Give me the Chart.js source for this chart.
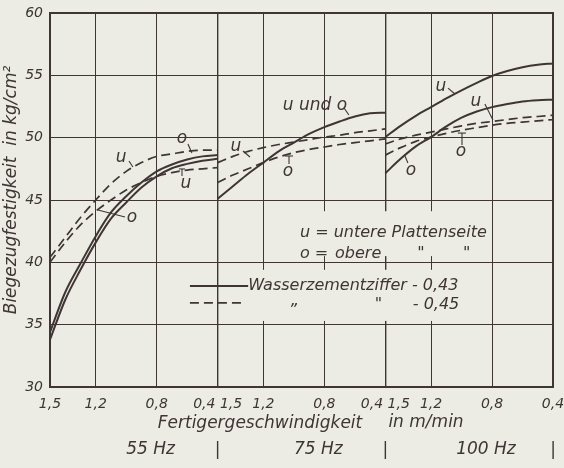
<!DOCTYPE html>
<html>
<head>
<meta charset="utf-8">
<script src="https://cdn.jsdelivr.net/npm/chart.js@4.4.1/dist/chart.umd.min.js"></script>
<style>
  html, body { margin: 0; padding: 0; background: #ecebe4; }
  #wrap { width: 564px; height: 468px; position: relative; }
</style>
</head>
<body>
<div id="wrap"><canvas id="c" width="564" height="468"></canvas></div>
<script>
// ---------------- DATA ----------------
const speeds = [1.5, 1.4, 1.3, 1.2, 1.1, 1.0, 0.9, 0.8, 0.7, 0.6, 0.5, 0.4]; // Fertigergeschwindigkeit m/min
const xTickSpeeds = [1.5, 1.2, 0.8, 0.4];
const panelLabels = ['55 Hz', '75 Hz', '100 Hz'];
const yMin = 30, yMax = 60, yStep = 5;

// 55 Hz
const s55_u43 = [34.4, 37.6, 39.9, 42.1, 44.0, 45.3, 46.4, 47.3, 47.85, 48.25, 48.5, 48.6];
const s55_o43 = [33.8, 37.0, 39.4, 41.6, 43.5, 44.8, 46.0, 46.9, 47.55, 47.9, 48.15, 48.3];
const s55_u45 = [40.4, 42.0, 43.6, 45.0, 46.3, 47.3, 48.0, 48.5, 48.7, 48.9, 49.0, 49.0];
const s55_o45 = [40.0, 41.6, 43.0, 44.1, 45.0, 45.8, 46.4, 46.9, 47.2, 47.4, 47.5, 47.6];
// 75 Hz
const s75_uo43 = [45.1, 46.1, 47.1, 48.0, 48.9, 49.6, 50.3, 50.85, 51.3, 51.7, 51.95, 52.0];
const s75_u45 = [48.0, 48.5, 48.9, 49.2, 49.45, 49.65, 49.85, 50.05, 50.2, 50.4, 50.55, 50.7];
const s75_o45 = [46.4, 47.0, 47.5, 48.0, 48.45, 48.8, 49.05, 49.25, 49.45, 49.6, 49.75, 49.9];
// 100 Hz
const s100_u43 = [50.05, 50.95, 51.75, 52.45, 53.15, 53.8, 54.4, 54.95, 55.35, 55.65, 55.85, 55.95];
const s100_o43 = [47.15, 48.3, 49.3, 50.05, 50.9, 51.6, 52.1, 52.45, 52.7, 52.9, 53.0, 53.05];
const s100_u45 = [49.5, 49.9, 50.2, 50.45, 50.7, 50.95, 51.15, 51.3, 51.45, 51.6, 51.7, 51.8];
const s100_o45 = [48.6, 49.2, 49.7, 50.05, 50.35, 50.6, 50.8, 51.0, 51.15, 51.25, 51.35, 51.45];

// curve labels (data units on the composite axis)
const curveLabels = [
  { t: 'u', x: 0.466, y: 48.37, leads: [[[0.518, 48.13], [0.544, 47.65]]] },
  { t: 'o', x: 0.866, y: 49.89, leads: [[[0.905, 49.49], [0.931, 48.77]]] },
  { t: 'u', x: 0.892, y: 46.28, leads: [[[0.866, 46.92], [0.866, 47.49]], [[0.846, 47.49], [0.886, 47.49]]] },
  { t: 'o', x: 0.538, y: 43.56, leads: [[[0.492, 43.64], [0.315, 44.2]]] },
  { t: 'u und o', x: 1.738, y: 52.54, leads: [[[1.929, 52.38], [1.961, 51.82]]] },
  { t: 'u', x: 1.220, y: 49.25, leads: [[[1.266, 48.93], [1.312, 48.45]]] },
  { t: 'o', x: 1.561, y: 47.25, leads: [[[1.568, 47.89], [1.568, 48.53]], [[1.541, 48.53], [1.594, 48.53]]] },
  { t: 'u', x: 2.565, y: 54.06, leads: [[[2.611, 53.98], [2.657, 53.5]]] },
  { t: 'u', x: 2.794, y: 52.86, leads: [[[2.853, 52.7], [2.906, 51.42]]] },
  { t: 'o', x: 2.696, y: 48.85, leads: [[[2.703, 49.41], [2.703, 50.37]], [[2.676, 50.37], [2.729, 50.37]]] },
  { t: 'o', x: 2.368, y: 47.33, leads: [[[2.348, 47.97], [2.329, 48.53]]] }
];

// ---------------- BUILD ----------------
const INK = '#3f3534';
const PAPER = '#ecebe4';
const FONT = "'DejaVu Sans', sans-serif";
const panelSpan = speeds[0] - speeds[speeds.length - 1];
const toX = (p, v) => p * panelSpan + (speeds[0] - v);

function series(p, arr, dashed) {
  return {
    data: speeds.map((v, i) => ({ x: toX(p, v), y: arr[i] })),
    borderColor: INK,
    borderWidth: dashed ? 1.7 : 2,
    borderDash: dashed ? [9, 5] : [],
    pointRadius: 0,
    fill: false,
    cubicInterpolationMode: 'monotone'
  };
}
const datasets = [
  series(0, s55_u43, false), series(0, s55_o43, false),
  series(0, s55_u45, true), series(0, s55_o45, true),
  series(1, s75_uo43, false), series(1, s75_u45, true), series(1, s75_o45, true),
  series(2, s100_u43, false), series(2, s100_o43, false),
  series(2, s100_u45, true), series(2, s100_o45, true)
];

// composite x ticks
const tickPos = [], tickLab = [];
panelLabels.forEach((_, p) => {
  xTickSpeeds.forEach(v => {
    const pos = toX(p, v);
    const lab = v.toFixed(1).replace('.', ',');
    const prev = tickPos.length ? tickPos[tickPos.length - 1] : null;
    if (prev !== null && Math.abs(prev - pos) < 1e-9) {
      tickLab[tickLab.length - 1] = tickLab[tickLab.length - 1] + ' ' + lab;
    } else {
      tickPos.push(pos); tickLab.push(lab);
    }
  });
});
const boundaries = panelLabels.map((_, p) => (p + 1) * panelSpan);

const paperPlugin = {
  id: 'paper',
  beforeDraw(chart) {
    const ctx = chart.ctx;
    ctx.save(); ctx.fillStyle = PAPER; ctx.fillRect(0, 0, chart.width, chart.height); ctx.restore();
  },
  beforeDatasetsDraw(chart) {
    const ctx = chart.ctx, a = chart.chartArea;
    const X = v => chart.scales.x.getPixelForValue(v), Y = v => chart.scales.y.getPixelForValue(v);
    ctx.save();
    // clear grid behind the explanation texts
    ctx.fillStyle = PAPER;
    ctx.fillRect(X(1.575), Y(44.1), X(2.885) - X(1.575), Y(40.5) - Y(44.1));
    ctx.fillRect(X(1.29), Y(39.4), X(2.69) - X(1.29), Y(35.3) - Y(39.4));
    // frame
    ctx.strokeStyle = INK; ctx.lineWidth = 2;
    ctx.strokeRect(a.left, a.top, a.right - a.left, a.bottom - a.top);
    ctx.restore();
  },
  afterDatasetsDraw(chart) {
    const ctx = chart.ctx;
    const X = v => chart.scales.x.getPixelForValue(v), Y = v => chart.scales.y.getPixelForValue(v);
    ctx.save();
    ctx.fillStyle = INK; ctx.strokeStyle = INK;
    // curve labels
    ctx.font = "italic 17px " + FONT;
    ctx.textAlign = 'center'; ctx.textBaseline = 'middle';
    ctx.lineWidth = 1.1;
    curveLabels.forEach(l => {
      ctx.fillText(l.t, X(l.x), Y(l.y));
      l.leads.forEach(line => {
        ctx.beginPath();
        line.forEach((pt, i) => i ? ctx.lineTo(X(pt[0]), Y(pt[1])) : ctx.moveTo(X(pt[0]), Y(pt[1])));
        ctx.stroke();
      });
    });
    // explanation block
    ctx.textAlign = 'left';
    ctx.font = "italic 16px " + FONT;
    ctx.fillText('u = untere Plattenseite', X(1.64), Y(42.4));
    ctx.fillText('o =', X(1.64), Y(40.7));
    ctx.fillText('obere', X(1.87), Y(40.7));
    ctx.fillText('"', X(2.41), Y(40.7));
    ctx.fillText('"', X(2.71), Y(40.7));
    // legend
    ctx.lineWidth = 2; ctx.setLineDash([]);
    ctx.beginPath(); ctx.moveTo(X(0.918), Y(38.1)); ctx.lineTo(X(1.30), Y(38.1)); ctx.stroke();
    ctx.lineWidth = 1.7; ctx.setLineDash([9, 5]);
    ctx.beginPath(); ctx.moveTo(X(0.918), Y(36.75)); ctx.lineTo(X(1.27), Y(36.75)); ctx.stroke();
    ctx.setLineDash([]);
    ctx.fillText('Wasserzementziffer - 0,43', X(1.30), Y(38.1));
    ctx.fillText('„', X(1.58), Y(36.9));
    ctx.fillText('"', X(2.13), Y(36.6));
    ctx.fillText('- 0,45', X(2.38), Y(36.6));
    // axis titles
    ctx.textAlign = 'center';
    ctx.font = "italic 17px " + FONT;
    ctx.fillText('Fertigergeschwindigkeit', 260, 424);
    ctx.fillText('in m/min', 426, 423);
    ctx.save();
    ctx.translate(12, 190); ctx.rotate(-Math.PI / 2);
    ctx.font = "italic 17px " + FONT;
    ctx.fillText('Biegezugfestigkeit  in kg/cm²', 0, 0);
    ctx.restore();
    // frequency row
    panelLabels.forEach((lab, p) => {
      ctx.fillText(lab, X(p * panelSpan + panelSpan / 2 + 0.11), 450);
      ctx.fillText('|', X(boundaries[p]), 451);
    });
    ctx.restore();
  }
};

new Chart(document.getElementById('c'), {
  type: 'line',
  data: { datasets },
  options: {
    responsive: false,
    animation: false,
    devicePixelRatio: 1,
    layout: { padding: { top: 13, right: 11, left: 0, bottom: 0 } },
    plugins: { legend: { display: false }, tooltip: { enabled: false } },
    scales: {
      x: {
        type: 'linear', min: 0, max: panelSpan * panelLabels.length,
        afterBuildTicks: s => { s.ticks = tickPos.map(v => ({ value: v })); },
        afterFit: s => { s.height = 81; s.paddingLeft = 0; s.paddingRight = 0; },
        ticks: {
          autoSkip: false, maxRotation: 0, padding: 9, color: INK,
          font: { family: FONT, size: 14, style: 'italic' },
          callback: (v, i) => tickLab[i]
        },
        grid: {
          color: INK, drawTicks: false,
          lineWidth: c => (boundaries.some(b => Math.abs(b - c.tick.value) < 1e-9) ? 1.4 : 1)
        },
        border: { display: true, color: INK, width: 2 }
      },
      y: {
        min: yMin, max: yMax,
        afterFit: s => { s.width = 50; s.paddingTop = 0; s.paddingBottom = 0; },
        ticks: {
          stepSize: yStep, padding: 7, color: INK,
          font: { family: FONT, size: 14, style: 'italic' }
        },
        grid: { color: INK, lineWidth: 1, drawTicks: false },
        border: { display: true, color: INK, width: 2 }
      }
    }
  },
  plugins: [paperPlugin]
});
</script>
</body>
</html>
